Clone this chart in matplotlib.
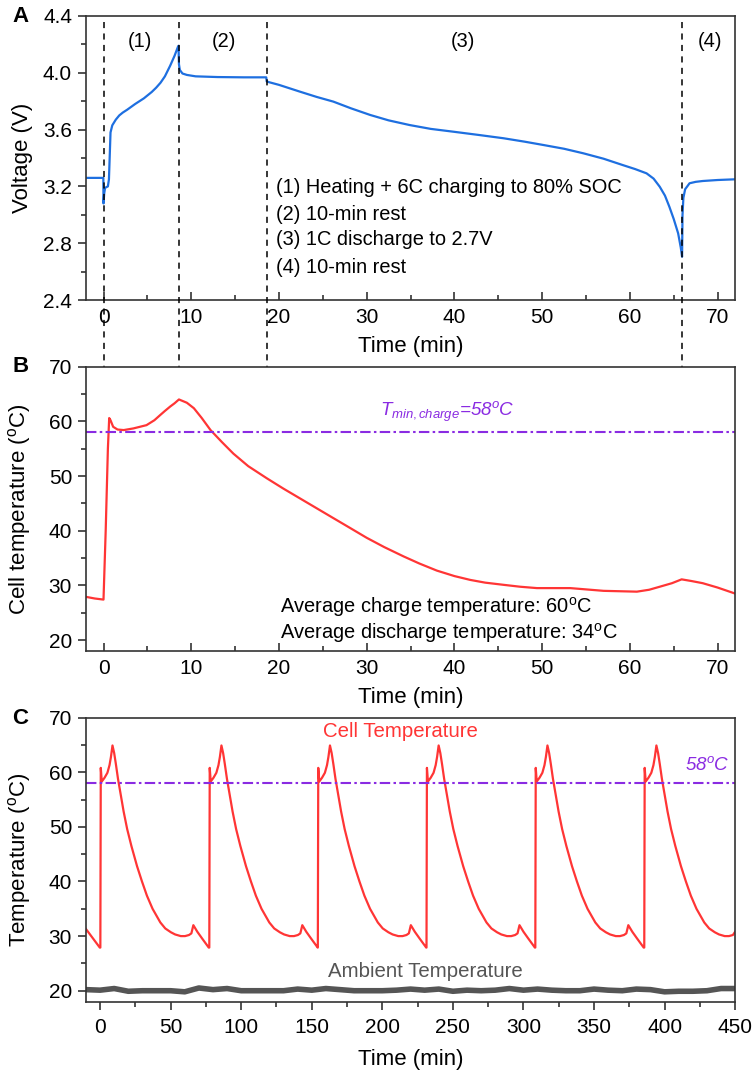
import matplotlib
matplotlib.use("Agg")
import matplotlib.pyplot as plt
from matplotlib.transforms import blended_transform_factory
from matplotlib.ticker import MultipleLocator, FormatStrFormatter

plt.rcParams['font.family'] = ['Liberation Sans', 'DejaVu Sans']
plt.rcParams['mathtext.fontset'] = 'custom'
plt.rcParams['mathtext.rm'] = 'Liberation Sans'
plt.rcParams['mathtext.it'] = 'Liberation Sans:italic'

# Panel A: voltage profile
t_volt = [-2, -0.02, 0.0, 0.08, 0.18, 0.5, 0.62, 0.8, 1.0, 1.4, 1.8, 2.2, 2.7, 3.6, 4.6, 5.5,
          6.0, 6.5, 7.0, 7.6, 8.1, 8.5, 8.55, 8.6, 8.7, 9.0, 9.5, 10.5, 13, 16, 18.55, 18.6,
          18.8, 20, 22.4, 24.3, 26.2, 28.2, 30.4, 32.5, 34.9, 37.3, 39.9, 42.8, 45.6, 48,
          50.1, 52.5, 54.7, 57, 59.2, 60.6, 61.9, 62.7, 63.4, 64.0, 64.5, 65.0, 65.5, 65.8,
          65.95, 66.0, 66.1, 66.3, 66.8, 67.5, 68.3, 70, 72]
volt = [3.26, 3.26, 3.08, 3.15, 3.19, 3.20, 3.25, 3.58, 3.63, 3.67, 3.70, 3.72, 3.74, 3.78, 3.82, 3.865,
        3.895, 3.93, 3.975, 4.05, 4.12, 4.185, 4.19, 4.06, 4.02, 3.995, 3.985, 3.975, 3.97, 3.968, 3.968, 3.94,
        3.935, 3.915, 3.867, 3.83, 3.797, 3.75, 3.703, 3.665, 3.632, 3.605, 3.585, 3.562, 3.539, 3.515,
        3.492, 3.465, 3.433, 3.395, 3.35, 3.322, 3.292, 3.255, 3.198, 3.135, 3.057, 2.97, 2.87, 2.77,
        2.705, 3.00, 3.12, 3.18, 3.222, 3.232, 3.238, 3.245, 3.25]

# Panel B: cell temperature during one cycle
t_cell = [-2, -1, 0, 0.25, 0.5, 0.65, 0.8, 1.1, 1.6, 2.3, 3.4, 4.9, 5.8, 6.5, 7.0, 7.6, 8.1, 8.6,
          9.5, 10.3, 11.2, 12.2, 13.5, 14.8, 16.5, 18.6, 20.5, 22.4, 24.3, 26.2, 28, 30, 32,
          34.2, 36, 38, 40, 41.8, 43.5, 45.6, 47.5, 49.4, 53.2, 57, 60.8, 62.2, 63.4, 64.8,
          65.9, 67, 68.3, 70, 72]
temp_cell = [27.9, 27.6, 27.4, 40, 55, 60.6, 60.2, 59.0, 58.5, 58.4, 58.7, 59.3, 60.2, 61.2, 61.9, 62.7, 63.3, 64.0,
             63.4, 62.4, 60.6, 58.4, 56.2, 54.1, 51.8, 49.6, 47.7, 45.9, 44.1, 42.3, 40.6, 38.7, 37.0,
             35.3, 34.0, 32.7, 31.7, 31.0, 30.5, 30.1, 29.75, 29.5, 29.5, 29.0, 28.85, 29.2, 29.75, 30.4,
             31.1, 30.8, 30.4, 29.6, 28.5]

# step boundaries (min)
step_marks = [0, 8.55, 18.6, 65.95]
t_min_charge = 58

# Panel C: repeated cycles, one cycle profile
cycle_s = [0, 0.3, 1.0, 3, 5, 6.5, 7.5, 8.6, 9.8, 11, 12.5, 14.4, 16.5, 19, 22, 26, 29.5, 33,
           37, 42.5, 46, 50, 53, 57, 60, 62.8, 64.5, 65.9, 68.7, 72, 76.8]
cycle_T = [27.9, 60.8, 58.3, 59.0, 59.9, 61.3, 62.8, 64.9, 63.5, 61.5, 58.8, 56.0, 52.8, 49.6, 46.5, 42.8, 40.0, 37.4,
           35.0, 32.5, 31.4, 30.7, 30.3, 30.0, 30.0, 30.2, 30.5, 32.0, 30.8, 29.6, 27.9]
cycle_starts = [0.2, 77.4, 154.3, 231.3, 308.4, 385.6]
pre_t = [-10, -5.4, -0.2]
pre_T = [31.3, 29.7, 27.9]
end_t = 450
end_T = 30.8

t_amb = list(range(-10, 451, 10))
temp_amb = [20.2, 20.1, 20.4, 19.9, 20.0, 20.0, 20.0, 19.8, 20.5, 20.2, 20.4, 20.0, 20.0, 20.0,
            20.0, 20.3, 20.1, 20.4, 20.2, 20.0, 20.0, 20.0, 20.1, 20.3, 20.1, 20.3, 19.9, 20.1,
            20.0, 20.1, 20.4, 20.1, 20.3, 20.1, 20.0, 20.0, 20.3, 20.1, 20.0, 20.3, 20.2, 19.8,
            19.9, 19.9, 20.0, 20.4, 20.4]

c_tc, c_Tc = list(pre_t), list(pre_T)
for t0 in cycle_starts:
    for s, v in zip(cycle_s, cycle_T):
        if t0 + s < end_t:
            c_tc.append(t0 + s)
            c_Tc.append(v)
c_tc.append(end_t)
c_Tc.append(end_T)

BLUE = '#1E6FE0'
RED = '#FF3535'
PURPLE = '#8A2BE2'
GRAY = '#555555'
SPINE = '#333333'
FS = 15
FS_LAB = 16
FS_TXT = 14.4

fig = plt.figure(figsize=(7.54, 10.73), dpi=100)
axA = fig.add_axes([0.114, 0.7204, 0.861, 0.2647])
axB = fig.add_axes([0.114, 0.3933, 0.861, 0.2650])
axC = fig.add_axes([0.114, 0.0665, 0.861, 0.2647])


def style(ax, xdir):
    for sp in ax.spines.values():
        sp.set_color(SPINE)
        sp.set_linewidth(1.2)
    ax.tick_params(axis='y', which='both', direction='out', left=True, right=False,
                   labelsize=FS, color=SPINE, pad=4)
    ax.tick_params(axis='x', which='both', direction=xdir, bottom=True, top=False,
                   labelsize=FS, color=SPINE, pad=6)
    ax.tick_params(which='major', length=6, width=1.2)
    ax.tick_params(which='minor', length=3.5, width=1.2)
    ax.yaxis.set_label_coords(-0.082, 0.5)


# A
axA.plot(t_volt, volt, color=BLUE, lw=1.6)
axA.set_xlim(-2, 72)
axA.set_ylim(2.4, 4.4)
axA.xaxis.set_major_locator(MultipleLocator(10))
axA.xaxis.set_minor_locator(MultipleLocator(5))
axA.yaxis.set_major_locator(MultipleLocator(0.4))
axA.yaxis.set_minor_locator(MultipleLocator(0.2))
axA.yaxis.set_major_formatter(FormatStrFormatter('%.1f'))
style(axA, 'in')
axA.set_xlabel('Time (min)', fontsize=FS_LAB)
axA.xaxis.set_label_coords(0.5, -0.125)
axA.set_ylabel('Voltage (V)', fontsize=FS_LAB)
for lbl, x in zip(['(1)', '(2)', '(3)', '(4)'], [4.18, 13.75, 41.0, 69.1]):
    axA.text(x, 4.22, lbl, fontsize=FS_TXT, ha='center', va='center')
steps = ['(1) Heating + 6C charging to 80% SOC', '(2) 10-min rest',
         '(3) 1C discharge to 2.7V', '(4) 10-min rest']
for lbl, y in zip(steps, [3.189, 2.999, 2.823, 2.632]):
    axA.text(19.67, y, lbl, fontsize=FS_TXT, ha='left', va='center')

# B
axB.plot(t_cell, temp_cell, color=RED, lw=1.6)
axB.axhline(t_min_charge, color=PURPLE, lw=1.5, dashes=(5, 1.6, 1.2, 1.6))
axB.set_xlim(-2, 72)
axB.set_ylim(18, 70)
axB.xaxis.set_major_locator(MultipleLocator(10))
axB.xaxis.set_minor_locator(MultipleLocator(5))
axB.yaxis.set_major_locator(MultipleLocator(10))
axB.yaxis.set_minor_locator(MultipleLocator(5))
style(axB, 'in')
axB.set_xlabel('Time (min)', fontsize=FS_LAB)
axB.xaxis.set_label_coords(0.5, -0.125)
axB.set_ylabel(r'Cell temperature ($^\mathrm{o}$C)', fontsize=FS_LAB)
axB.text(39.2, 61.8, r'$T_{min,charge}$=58$^o$C', color=PURPLE, fontsize=13.5,
         style='italic', ha='center', va='center')
axB.text(20.1, 26.1, r'Average charge temperature: 60$^\mathrm{o}$C', fontsize=FS_TXT,
         ha='left', va='center')
axB.text(20.1, 21.2, r'Average discharge temperature: 34$^\mathrm{o}$C', fontsize=FS_TXT,
         ha='left', va='center')

# step boundary lines through A and B
trans = blended_transform_factory(axA.transData, fig.transFigure)
for x in step_marks:
    axA.plot([x, x], [1 - 22 / 1073, 1 - 651 / 1073], transform=trans, clip_on=False,
             color='black', lw=1.1, dashes=(4, 3.5), zorder=5)

# C
axC.plot(t_amb, temp_amb, color=GRAY, lw=4)
axC.plot(c_tc, c_Tc, color=RED, lw=1.6)
axC.axhline(t_min_charge, color=PURPLE, lw=1.5, dashes=(5, 1.6, 1.2, 1.6))
axC.set_xlim(-10, 450)
axC.set_ylim(18, 70)
axC.xaxis.set_major_locator(MultipleLocator(50))
axC.xaxis.set_minor_locator(MultipleLocator(25))
axC.yaxis.set_major_locator(MultipleLocator(10))
axC.yaxis.set_minor_locator(MultipleLocator(5))
style(axC, 'out')
axC.set_xlabel('Time (min)', fontsize=FS_LAB)
axC.xaxis.set_label_coords(0.5, -0.167)
axC.set_ylabel(r'Temperature ($^\mathrm{o}$C)', fontsize=FS_LAB)
axC.text(212.9, 67.4, 'Cell Temperature', color=RED, fontsize=14.7, ha='center', va='center')
axC.text(230.6, 23.5, 'Ambient Temperature', color=GRAY, fontsize=14.7, ha='center', va='center')
axC.text(445.8, 61.4, r'58$^o$C', color=PURPLE, fontsize=13.5, style='italic',
         ha='right', va='center')

for lbl, y in zip(['A', 'B', 'C'], [16, 367, 718]):
    fig.text(20.5 / 754, 1 - y / 1073, lbl, fontsize=16, weight='bold', ha='center', va='center')

fig.savefig('out.png', dpi=100)
